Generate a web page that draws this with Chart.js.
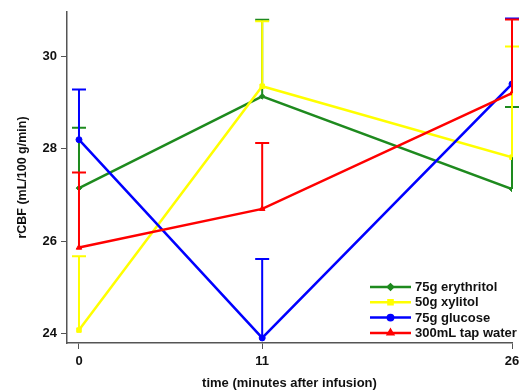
<!DOCTYPE html>
<html>
<head>
<meta charset="utf-8">
<script src="https://cdn.jsdelivr.net/npm/chart.js@4/dist/chart.umd.min.js"></script>
<style>
  html, body { margin: 0; padding: 0; background: #fff; }
  #wrap { width: 521px; height: 391px; }
</style>
</head>
<body>
<div id="wrap"><canvas id="cbf-chart"></canvas></div>
<script>
const times = [0, 11, 26];
const xTicks = [0, 11, 26];
const yTicks = [24, 26, 28, 30];

const labels = ["75g erythritol", "50g xylitol", "75g glucose", "300mL tap water"];
const erythritol = [27.15, 29.14, 27.13];
const erythritolErr = [28.46, 30.80, 28.91];
const xylitol = [24.07, 29.36, 27.82];
const xylitolErr = [25.67, 30.77, 30.22];
const glucose = [28.20, 23.90, 29.41];
const glucoseErr = [29.29, 25.61, 30.83];
const tapWater = [25.86, 26.70, 29.21];
const tapWaterErr = [27.49, 28.13, 30.81];

const colors = ["#1e8a1e", "#ffff00", "#0000ff", "#ff0000"];
const markers = ["rectRot", "rect", "circle", "triangle"];
const markerSize = [2.8, 3.2, 3, 3.2];

const series = [erythritol, xylitol, glucose, tapWater];
const errTops = [erythritolErr, xylitolErr, glucoseErr, tapWaterErr];

const fontFamily = "'Liberation Sans', Arial, sans-serif";

// vertical error bars (upper side only) with a cap
const errorBars = {
    id: "errorBars",
    afterDatasetDraw(chart, args) {
        const i = args.index;
        const ctx = chart.ctx;
        const xs = chart.scales.x, ys = chart.scales.y;
        ctx.save();
        ctx.strokeStyle = colors[i];
        ctx.lineWidth = 2;
        times.forEach((t, j) => {
            const px = xs.getPixelForValue(t);
            const y0 = ys.getPixelForValue(series[i][j]);
            const y1 = ys.getPixelForValue(errTops[i][j]);
            ctx.beginPath();
            ctx.moveTo(px, y0);
            ctx.lineTo(px, y1);
            ctx.moveTo(px - 7, y1);
            ctx.lineTo(px + 7, y1);
            ctx.stroke();
        });
        ctx.restore();
    }
};

// legend drawn inside the plot, bottom right
const innerLegend = {
    id: "innerLegend",
    afterDraw(chart) {
        const ctx = chart.ctx;
        const area = chart.chartArea;
        const x0 = area.right - 142;
        const rowH = 15.3;
        const yStart = area.bottom - 56;
        ctx.save();
        ctx.font = "bold 13px " + fontFamily;
        ctx.textBaseline = "middle";
        labels.forEach((lab, i) => {
            const y = yStart + i * rowH;
            ctx.strokeStyle = colors[i];
            ctx.lineWidth = 2.5;
            ctx.beginPath();
            ctx.moveTo(x0, y);
            ctx.lineTo(x0 + 41, y);
            ctx.stroke();
            ctx.fillStyle = colors[i];
            Chart.helpers.drawPoint(ctx, {
                pointStyle: markers[i],
                radius: markerSize[i] - 0.3,
                rotation: 0,
                borderWidth: 1
            }, x0 + 20.5, y);
            ctx.fillStyle = "#111";
            ctx.fillText(lab, x0 + 45, y + 0.5);
        });
        ctx.restore();
    }
};

new Chart(document.getElementById("cbf-chart"), {
    type: "line",
    data: {
        datasets: series.map((vals, i) => ({
            label: labels[i],
            data: vals.map((v, j) => ({ x: times[j], y: v })),
            borderColor: colors[i],
            backgroundColor: colors[i],
            borderWidth: 2.5,
            pointStyle: markers[i],
            pointRadius: markerSize[i],
            pointBorderWidth: 1,
            tension: 0,
            fill: false,
            order: 3 - i,
        })),
    },
    plugins: [errorBars, innerLegend],
    options: {
        responsive: true,
        maintainAspectRatio: false,
        animation: false,
        layout: {
            padding: { top: 12, right: 9, left: 0, bottom: 0 },
        },
        plugins: {
            legend: { display: false },
            tooltip: { enabled: false },
        },
        scales: {
            x: {
                type: "linear",
                min: -0.72,
                max: 26,
                afterBuildTicks: (scale) => {
                    scale.ticks = xTicks.map((v) => ({ value: v }));
                },
                afterFit: (scale) => {
                    scale.height = 48;
                    scale.paddingLeft = 0;
                    scale.paddingRight = 0;
                },
                grid: {
                    display: true,
                    drawOnChartArea: false,
                    drawTicks: true,
                    tickLength: 6,
                    color: "#555",
                },
                border: { display: true, color: "#555", width: 1.5 },
                ticks: {
                    color: "#111",
                    padding: 5,
                    maxRotation: 0,
                    font: { family: fontFamily, size: 13, weight: "bold" },
                },
                title: {
                    display: true,
                    text: "time (minutes after infusion)",
                    color: "#111",
                    padding: { top: 0, bottom: 0 },
                    font: { family: fontFamily, size: 13, weight: "bold" },
                },
            },
            y: {
                min: 23.79,
                max: 30.97,
                afterBuildTicks: (scale) => {
                    scale.ticks = yTicks.map((v) => ({ value: v }));
                },
                afterFit: (scale) => {
                    scale.width = 67;
                    scale.paddingTop = 0;
                    scale.paddingBottom = 0;
                },
                grid: {
                    display: true,
                    drawOnChartArea: false,
                    drawTicks: true,
                    tickLength: 6,
                    color: "#555",
                },
                border: { display: true, color: "#555", width: 1.5 },
                ticks: {
                    color: "#111",
                    padding: 4,
                    font: { family: fontFamily, size: 13, weight: "bold" },
                },
                title: {
                    display: true,
                    text: "rCBF (mL/100 g/min)",
                    color: "#111",
                    padding: { top: 15, bottom: 0 },
                    font: { family: fontFamily, size: 12.5, weight: "bold" },
                },
            },
        },
    },
});
</script>
</body>
</html>
